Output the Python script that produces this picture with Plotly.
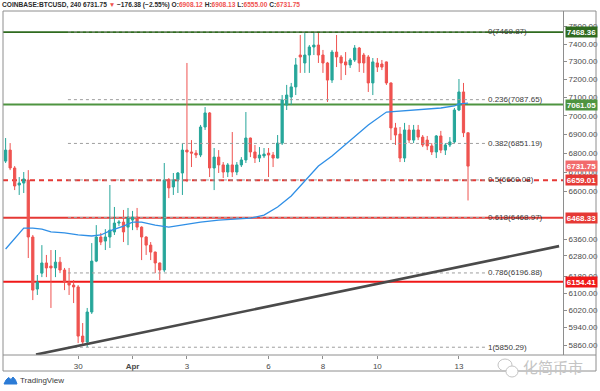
import math
import pandas as pd
import plotly.graph_objects as go

# ---------------- data ----------------
first_candle = "2020-03-27 08:00"   # 4h candles

opens = [6758, 6816, 6722, 6634, 6644, 6660, 6372, 6120, 6196, 6245,
         6230, 6221, 6249, 6211, 6153, 6139, 6130, 5901, 5874, 6012,
         6254, 6372, 6352, 6372, 6397, 6441, 6446, 6421, 6456, 6471,
         6421, 6372, 6332, 6298, 6245, 6211, 6660, 6624, 6660, 6696,
         6816, 6806, 6800, 6790, 6939, 7015, 6722, 6779, 6738, 6701,
         6738, 6701, 6738, 6764, 6880, 6806, 6774, 6785, 6800, 6790,
         6774, 6853, 7058, 7102, 7158, 7337, 7292, 7337, 7383, 7394,
         7337, 7292, 7196, 7354, 7326, 7298, 7281, 7309, 7377, 7337,
         7326, 7180, 7292, 7286, 7298, 7180, 6934, 6901, 6774, 6923,
         6869, 6923, 6885, 6869, 6838, 6806, 6891, 6816, 6843, 6859,
         7031, 7130, 6908.12]
highs = [6880, 6853, 6732, 6675, 6701, 6711, 6382, 6187, 6332, 6284,
         6308, 6308, 6274, 6221, 6221, 6163, 6139, 5961, 6031, 6342,
         6431, 6392, 6411, 6634, 6522, 6456, 6507, 6517, 6502, 6517,
         6425, 6375, 6347, 6300, 6247, 6748, 6670, 6696, 6701, 6853,
         7292, 6869, 6816, 6950, 7047, 7020, 6827, 6816, 6753, 6748,
         6912, 6753, 6779, 7020, 6882, 6843, 6832, 6827, 6827, 6806,
         6896, 7113, 7169, 7180, 7320, 7452, 7463, 7394, 7463, 7463,
         7366, 7298, 7366, 7452, 7337, 7354, 7320, 7394, 7383, 7349,
         7337, 7320, 7320, 7309, 7300, 7182, 6961, 6939, 6961, 6950,
         6950, 6950, 6896, 6891, 6853, 6896, 6918, 6853, 6885, 7042,
         7202, 7180, 6908.13]
lows = [6748, 6711, 6608, 6583, 6593, 6269, 6068, 6092, 6177, 6177,
        6031, 6177, 6196, 6115, 6092, 6054, 5869, 5860, 5851, 6003,
        6249, 6332, 6308, 6318, 6382, 6426, 6347, 6332, 6406, 6406,
        6259, 6284, 6259, 6196, 6163, 6201, 6567, 6583, 6593, 6583,
        6649, 6727, 6774, 6779, 6923, 6675, 6608, 6696, 6670, 6675,
        6675, 6685, 6727, 6748, 6779, 6748, 6753, 6774, 6675, 6727,
        6772, 6843, 7031, 7058, 7113, 7236, 7236, 7236, 7337, 7292,
        7236, 7075, 7180, 7269, 7196, 7224, 7264, 7298, 7241, 7236,
        7130, 7113, 7241, 7252, 7169, 6869, 6843, 6753, 6753, 6853,
        6853, 6869, 6832, 6816, 6790, 6774, 6800, 6790, 6832, 6853,
        7025, 6885, 6555.00]
closes = [6816, 6722, 6629, 6644, 6665, 6372, 6115, 6153, 6245, 6221,
          6221, 6249, 6211, 6153, 6139, 6130, 5901, 5874, 6012, 6254,
          6372, 6347, 6372, 6406, 6441, 6446, 6397, 6471, 6471, 6421,
          6372, 6332, 6298, 6245, 6211, 6660, 6619, 6660, 6696, 6816,
          6806, 6800, 6790, 6939, 7015, 6722, 6779, 6738, 6701, 6738,
          6701, 6738, 6764, 6880, 6806, 6774, 6790, 6795, 6790, 6774,
          6853, 7086, 7113, 7158, 7281, 7326, 7337, 7383, 7394, 7337,
          7292, 7196, 7354, 7326, 7292, 7281, 7309, 7377, 7292, 7292,
          7180, 7298, 7269, 7269, 7180, 6934, 6896, 6774, 6923, 6869,
          6923, 6885, 6843, 6838, 6806, 6891, 6816, 6843, 6859, 7031,
          7130, 6908.13, 6731.75]

# moving average (blue line), sampled at candle indices
ma_index = [0, 2, 4, 6, 8, 10, 13, 16, 19, 21, 23, 26, 28, 30, 33, 36, 40, 43,
            47, 51, 54, 57, 60, 63, 66, 69, 72, 76, 80, 84, 88, 92, 96, 99, 100, 102]
ma_values = [6313, 6367, 6416, 6416, 6411, 6397, 6392, 6382, 6377, 6382, 6402, 6426,
             6446, 6446, 6431, 6421, 6436, 6446, 6456, 6461, 6466, 6481, 6522, 6578,
             6654, 6732, 6785, 6869, 6950, 7020, 7026, 7036, 7042, 7053, 7064, 7069]

# fibonacci retracement
fib_ratios = ["0", "0.236", "0.382", "0.5", "0.618", "0.786", "1"]
fib_prices = [7469.87, 7087.65, 6851.19, 6660.08, 6468.97, 6196.88, 5850.29]
fib_start = "2020-03-29 15:00"
fib_end = "2020-04-13 23:00"

# horizontal levels (full width) and their price tags
level_prices = [7468.36, 7061.05, 6659.01, 6468.33, 6154.41]
level_colors = ["#2f6b1f", "#4e9440", "#e53935", "#e53935", "#f01818"]
level_dash = ["solid", "solid", "dash", "solid", "solid"]
last_price = 6731.75

# trend line
trend_times = ["2020-03-28 10:50", "2020-04-16 16:20"]
trend_prices = [5817, 6327]

# axes
y_ticks = [7500, 7400, 7300, 7200, 7100, 7000, 6900, 6800, 6700, 6600,
           6360, 6280, 6180, 6100, 6020, 5940, 5860]
x_tickvals = ["2020-03-30", "2020-04-01", "2020-04-03", "2020-04-06",
              "2020-04-08", "2020-04-10", "2020-04-13"]
x_ticktext = ["30", "<b>Apr</b>", "3", "6", "8", "10", "13"]
x_range = ["2020-03-27 05:42", "2020-04-16 19:48"]
y_range_prices = [5815.1, 7591.7]

# ---------------- figure ----------------
W, H = 600, 391
L, R, T, B = 3, 37, 11, 36
PW, PH = W - L - R, H - T - B
FONT = "Liberation Sans Narrow, Arial Narrow, Liberation Sans, Arial, sans-serif"
UP, DOWN = "#26a69a", "#ef5350"


def px(x):
    return (x - L) / PW


def py(y):
    return (T + PH - y) / PH


times = pd.date_range(first_candle, periods=len(opens), freq="4h")

fig = go.Figure()

# fib dotted lines
for r, p in zip(fib_ratios, fib_prices):
    fig.add_trace(go.Scatter(x=[fib_start, fib_end], y=[p, p], mode="lines",
                             line=dict(color="#9e9e9e", width=1, dash="dot"),
                             hoverinfo="skip", showlegend=False))

# full width levels
shapes = []
for p, c, d in zip(level_prices, level_colors, level_dash):
    shapes.append(dict(type="line", xref="paper", yref="y", x0=0, x1=1, y0=p, y1=p,
                       line=dict(color=c, width=2 if p != 7468.36 else 1.6,
                                 dash="5px,4px" if d == "dash" else "solid"),
                       layer="below"))

# MA line
fig.add_trace(go.Scatter(x=[times[i] for i in ma_index], y=ma_values, mode="lines",
                         line=dict(color="#2f8fe6", width=1.3),
                         hoverinfo="skip", showlegend=False))

# candles
fig.add_trace(go.Candlestick(
    x=times, open=opens, high=highs, low=lows, close=closes,
    increasing=dict(line=dict(color=UP, width=1), fillcolor=UP),
    decreasing=dict(line=dict(color=DOWN, width=1), fillcolor=DOWN),
    whiskerwidth=0, showlegend=False))

# trend line
fig.add_trace(go.Scatter(x=trend_times, y=trend_prices, mode="lines",
                         line=dict(color="#4a4a4a", width=2.6),
                         hoverinfo="skip", showlegend=False, cliponaxis=True))

annotations = []
# fib labels
for r, p in zip(fib_ratios, fib_prices):
    annotations.append(dict(x=fib_end, y=math.log10(p), xref="x", yref="y",
                            text=f"{r}({p:.2f})", showarrow=False, xanchor="left",
                            xshift=1, yanchor="middle",
                            font=dict(family=FONT, size=8, color="#3a3a3a")))

# price tags on the axis
tags = list(zip(level_prices, level_colors)) + [(last_price, "#f26b6b")]
for p, c in tags:
    annotations.append(dict(x=px(565), y=math.log10(p), xref="paper", yref="y",
                            text=f"<b>{p:.2f}</b>", showarrow=False, xanchor="left",
                            yanchor="middle", width=31, height=10, bgcolor=c,
                            borderpad=0, align="center",
                            font=dict(family=FONT, size=8, color="white")))

# header
hdr = ("<b>COINBASE:BTCUSD, 240 6731.75 <span style='color:#ef5350'>▼</span> "
       "−176.38 (−2.55%) O:<span style='color:#ef5350'>6908.12</span> "
       "H:<span style='color:#ef5350'>6908.13</span> "
       "L:<span style='color:#ef5350'>6555.00</span> "
       "C:<span style='color:#ef5350'>6731.75</span></b>")
annotations.append(dict(x=px(0), y=py(5), xref="paper", yref="paper", text=hdr,
                        showarrow=False, xanchor="left", yanchor="middle",
                        font=dict(family=FONT, size=6.6, color="#2a2a2a")))
# TradingView logo text
annotations.append(dict(x=px(18), y=py(380.5), xref="paper", yref="paper",
                        text="TradingView", showarrow=False, xanchor="left",
                        yanchor="middle", font=dict(family=FONT, size=8, color="#3a3a3a")))
# watermark
annotations.append(dict(x=px(553), y=py(366), xref="paper", yref="paper",
                        text="化简币市", showarrow=False, xanchor="center",
                        yanchor="middle",
                        font=dict(family="Noto Sans CJK SC", size=15, color="#c4c4c4")))

# frame
fc = "#8e8e8e"
shapes += [
    dict(type="rect", xref="paper", yref="paper", x0=px(3), x1=px(596), y0=py(371), y1=py(11),
         line=dict(color=fc, width=1), layer="above"),
    dict(type="line", xref="paper", yref="paper", x0=px(563.5), x1=px(563.5), y0=py(355), y1=py(11),
         line=dict(color=fc, width=1), layer="above"),
    dict(type="line", xref="paper", yref="paper", x0=px(3), x1=px(596), y0=py(355), y1=py(355),
         line=dict(color=fc, width=1), layer="above"),
    # TradingView cloud icon
    dict(type="path", xref="paper", yref="paper",
         path=f"M {px(4)},{py(384)} L {px(6)},{py(380)} L {px(8.5)},{py(377.5)} L {px(11)},{py(379.5)} "
              f"L {px(13)},{py(377)} L {px(15.5)},{py(380)} L {px(17)},{py(384)} Z",
         fillcolor="#2b7bd6", line=dict(color="#2b7bd6", width=1), layer="above"),
    # watermark bubbles
    dict(type="circle", xref="paper", yref="paper", x0=px(498), x1=px(512), y0=py(371), y1=py(359),
         line=dict(color="#c4c4c4", width=1), layer="above"),
    dict(type="circle", xref="paper", yref="paper", x0=px(506), x1=px(518), y0=py(377), y1=py(366),
         line=dict(color="#c4c4c4", width=1), fillcolor="white", layer="above"),
]

fig.update_layout(
    width=W, height=H, margin=dict(l=L, r=R, t=T, b=B),
    paper_bgcolor="white", plot_bgcolor="white",
    showlegend=False, shapes=shapes, annotations=annotations,
    font=dict(family=FONT, size=8, color="#4a4a4a"),
    xaxis=dict(type="date", range=x_range, rangeslider=dict(visible=False),
               tickvals=x_tickvals, ticktext=x_ticktext, ticks="outside", ticklen=3,
               tickcolor=fc, showgrid=False, zeroline=False, showline=False,
               tickfont=dict(family=FONT, size=8, color="#4a4a4a")),
    yaxis=dict(type="log", side="right",
               range=[math.log10(y_range_prices[0]), math.log10(y_range_prices[1])],
               tickvals=y_ticks, ticktext=[f"{v:.2f}" for v in y_ticks],
               ticks="outside", ticklen=3, tickcolor=fc, showgrid=False,
               zeroline=False, showline=False,
               tickfont=dict(family=FONT, size=8, color="#4a4a4a")),
)

fig.write_html("out.html", config={"displayModeBar": False},
               post_script="document.body.style.margin='0';document.body.style.overflow='hidden';")
